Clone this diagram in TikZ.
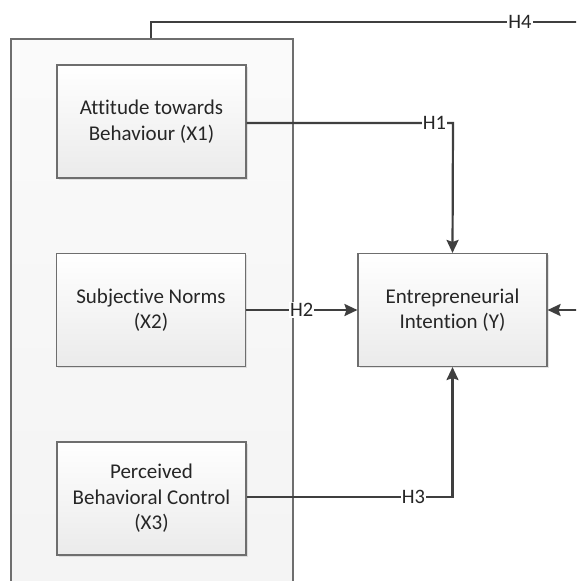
\documentclass[tikz,border=0pt]{standalone}
\usepackage{fontspec}
\setmainfont{Carlito}[Ligatures=NoCommon]
\usetikzlibrary{arrows.meta,shadows,calc}
\definecolor{lineC}{HTML}{3F3F3F}
\definecolor{borderC}{HTML}{6E6E6E}
\definecolor{outerC}{HTML}{F3F3F3}
\tikzset{
  varbox/.style={draw=borderC, line width=1.1pt, top color=white, bottom color=black!8,
    minimum width=189pt, minimum height=113pt, align=center, font=\fontsize{21}{25.5}\selectfont,
    text=black!85, drop shadow={shadow xshift=1.5pt, shadow yshift=-1.5pt, fill=black!30, opacity=0.35}},
  outerbox/.style={draw=borderC, line width=1.1pt, top color=white!60!outerC, bottom color=outerC,
    minimum width=282pt, minimum height=600pt},
  conn/.style={draw=lineC, line width=2.2pt},
  arr/.style={conn, -{Stealth[length=13pt,width=12pt,inset=2pt]}},
  hlab/.style={fill=white, inner sep=1pt, font=\fontsize{20.5}{22}\selectfont, text=black!85}
}
\begin{document}
\begin{tikzpicture}[x=1pt,y=-1pt]
\useasboundingbox (0,0) rectangle (576,581);
\clip (0,0) rectangle (576,581);
\fill[white] (0,0) rectangle (576,581);
\node[outerbox] (grp) at (152,339) {};
\node[varbox] (x1) at (151.5,121.5) {Attitude towards\\Behaviour (X1)};
\node[varbox] (x2) at (151,310) {Subjective Norms\\(X2)};
\node[varbox] (x3) at (151.5,498.5) {Perceived\\Behavioral Control\\(X3)};
\node[varbox] (y) at (452.5,310) {Entrepreneurial\\Intention (Y)};
\coordinate (h4end) at (580,22);
\coordinate (rin) at (580,310);
% H4
\draw[conn] (grp.north -| 151,0) -- (151,22) -- (h4end)
  node[hlab, pos=0.86] {H4};
% H1
\draw[arr] (x1.east |- 0,123) -- (453,123) node[hlab, pos=0.91] {H1} -- (y.north);
% H2
\draw[arr] (x2.east) -- (y.west) node[hlab, pos=0.5] {H2};
% H3
\draw[arr] (x3.east |- 0,497) -- (452.5,497) node[hlab, pos=0.81] {H3} -- (y.south);
% right input
\draw[arr] (rin) -- (y.east);
\end{tikzpicture}
\end{document}
